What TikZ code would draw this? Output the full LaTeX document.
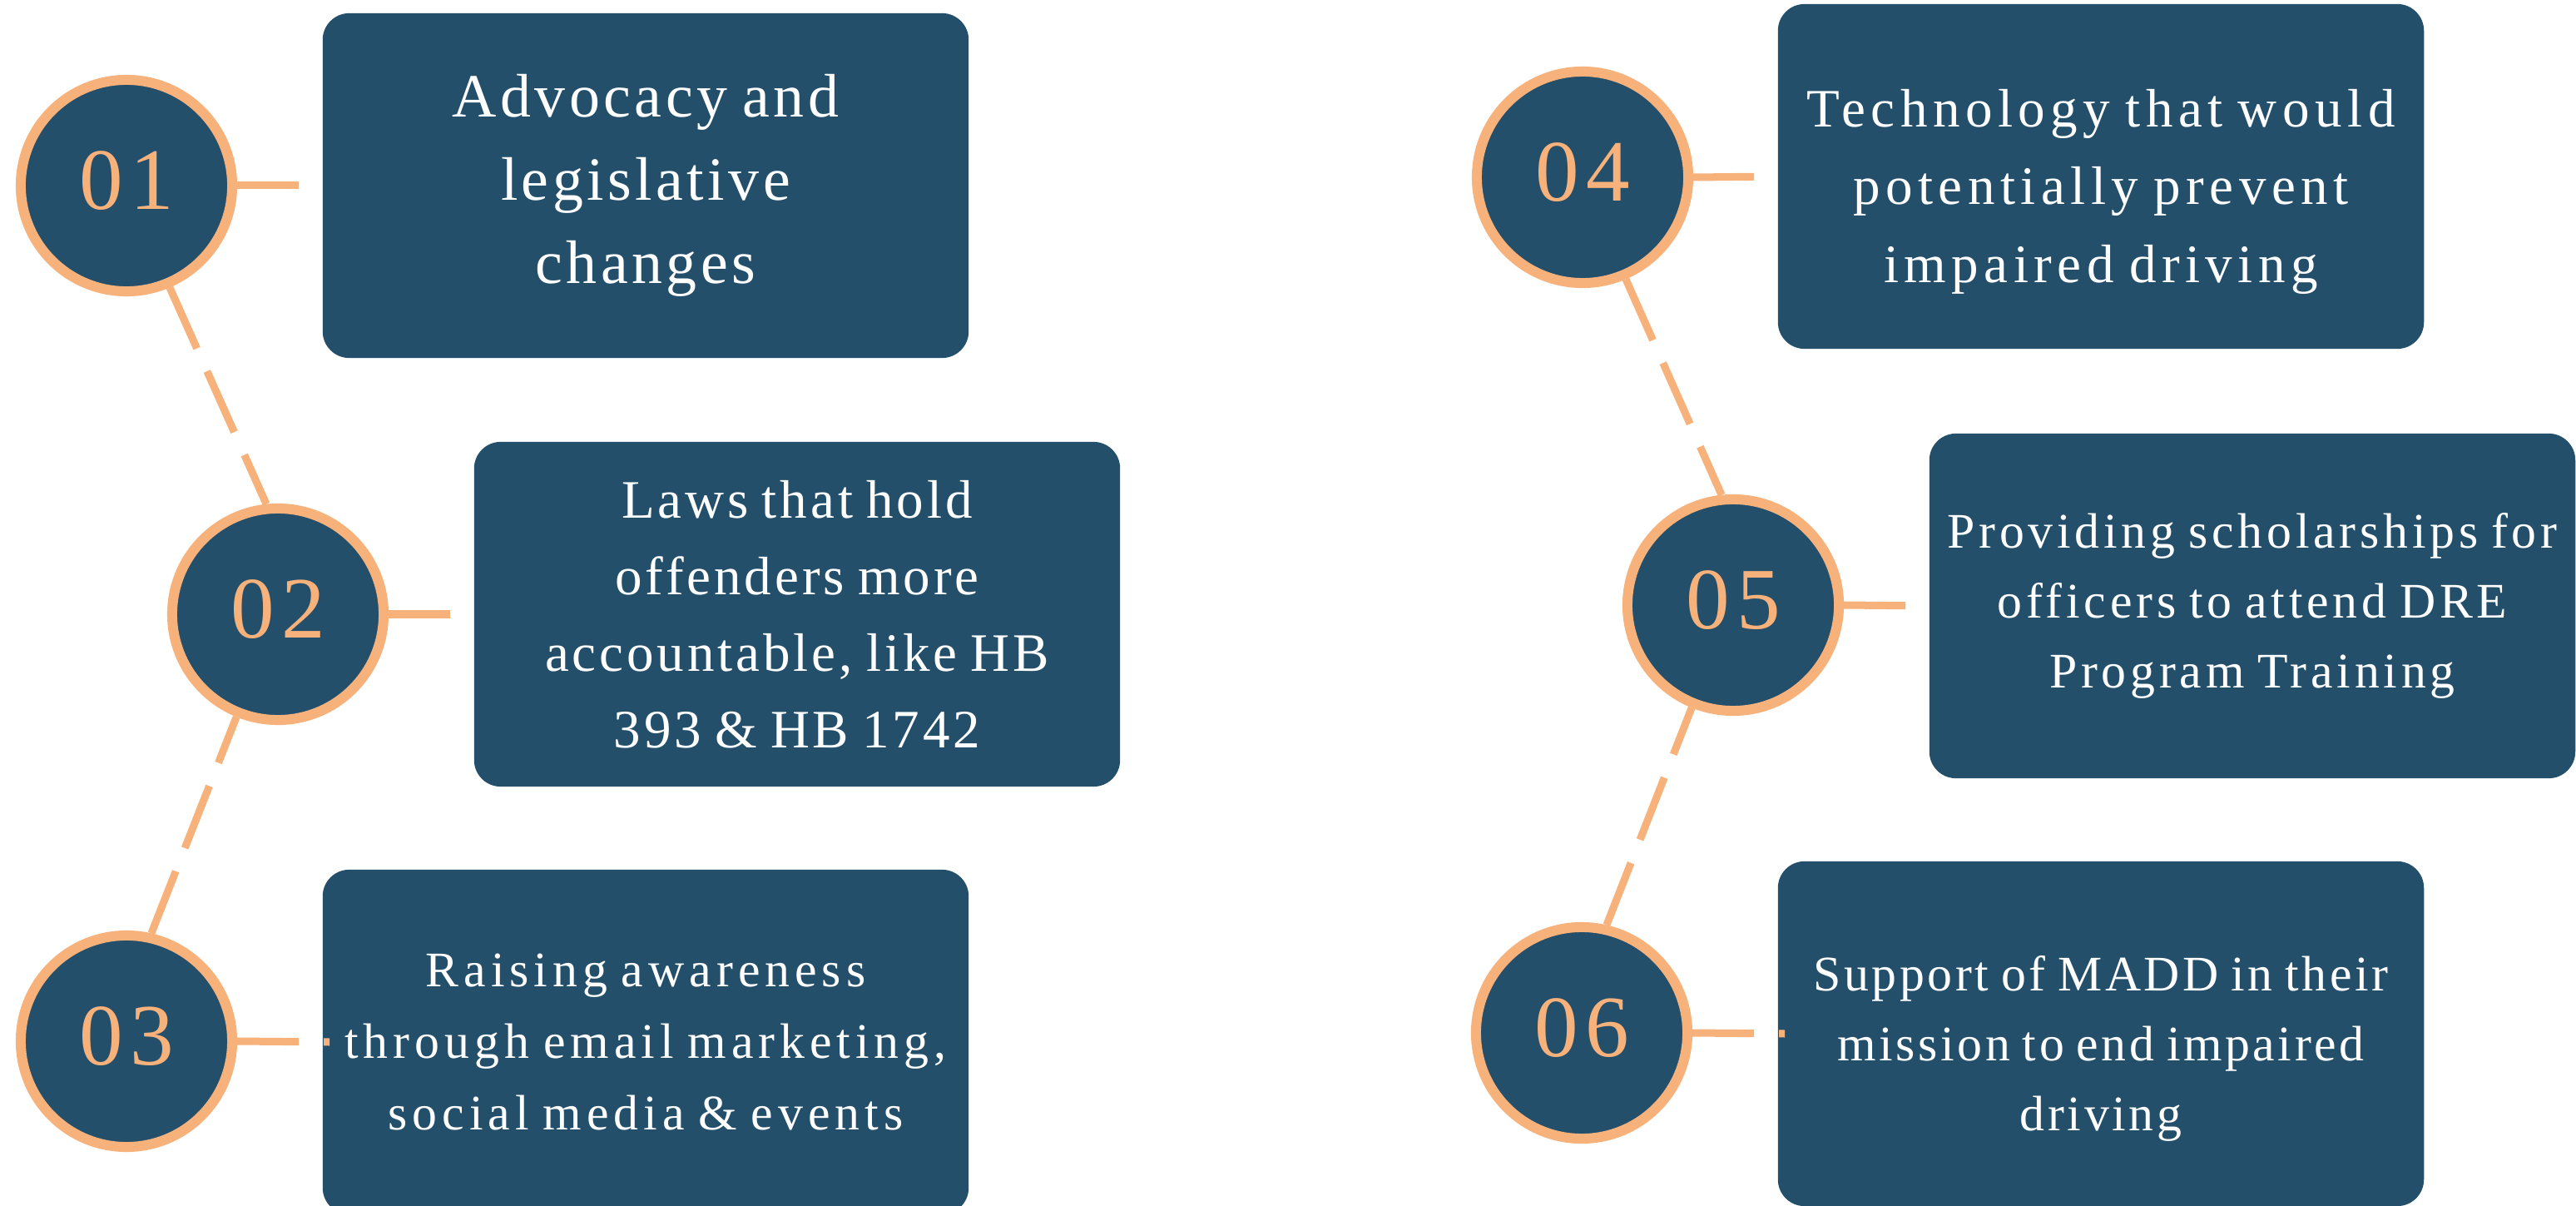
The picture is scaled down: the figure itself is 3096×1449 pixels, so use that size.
\documentclass[tikz,border=0pt]{standalone}
\usepackage{fontspec}
\setmainfont{Liberation Serif}
\newfontfamily\cardfont[LetterSpace=6,WordSpace=0.8]{Liberation Serif}
\newfontfamily\numfont[LetterSpace=8]{Liberation Serif}

\definecolor{navy}{HTML}{234F6B}
\definecolor{peach}{HTML}{F7B17B}

\newlength\cardw
\setlength\cardw{7.76cm}
\newlength\cardh
\setlength\cardh{4.14cm}

\begin{document}
\begin{tikzpicture}[x=0.01cm,y=-0.01cm,
    num/.style={circle,draw=peach,line width=1.2mm,fill=navy,minimum size=2.54cm,inner sep=0pt,
      text=peach,text depth=1.2mm,font=\numfont\fontsize{29.9}{36}\selectfont},
    card/.style={rounded corners=3.2mm,fill=navy,minimum width=\cardw,minimum height=\cardh,inner sep=0pt},
    cardtext/.style={text=white,align=center,inner sep=0pt},
    link/.style={peach,line width=0.9mm,shorten >=2.8mm},
    ticklink/.style={peach,line width=0.9mm,dash pattern=on 7.4mm off 3mm on 0.7mm off 5mm},
    chain/.style={peach,line width=0.9mm,dash pattern=on 8mm off 3mm}]
  \useasboundingbox (0,0) rectangle (3096,1449);

  \foreach \n/\x/\y in {01/152/223,02/334/738,03/152/1251,04/1902/213,05/2083/727,06/1901/1241} {
    \node[num] (c\n) at (\x,\y) {\n};
  }

  \foreach \n/\x/\y in {1/776/223,2/958/738,3/776/1252,4/2525/212,5/2707/728,6/2525/1242} {
    \node[card] (b\n) at (\x,\y) {};
  }

  \node[cardtext,font=\cardfont\fontsize{21}{28.5}\selectfont] (t1) at (b1)
    {Advocacy and\\legislative\\changes};
  \node[cardtext,font=\cardfont\fontsize{18.5}{26.2}\selectfont] (t2) at (b2)
    {Laws that hold\\offenders more\\accountable, like HB\\393 \& HB 1742};
  \node[cardtext,font=\cardfont\addfontfeature{LetterSpace=10}\fontsize{17}{24.4}\selectfont] (t3) at (b3)
    {Raising awareness\\through email marketing,\\social media \& events};
  \node[cardtext,font=\cardfont\addfontfeature{LetterSpace=10}\fontsize{18.5}{26.6}\selectfont] (t4)
    at ([yshift=-1.8mm]b4) {Technology that would\\potentially prevent\\impaired driving};
  \node[cardtext,font=\cardfont\addfontfeature{LetterSpace=8}\fontsize{17}{23.9}\selectfont] (t5) at (b5)
    {Providing scholarships for\\officers to attend DRE\\Program Training};
  \node[cardtext,font=\cardfont\fontsize{17}{23.9}\selectfont] (t6)
    at ([yshift=-1.8mm]b6) {Support of MADD in their\\mission to end impaired\\driving};

  \draw[link] (c01.east) -- (b1.west);
  \draw[link] (c02.east) -- (b2.west);
  \draw[ticklink] (c03.east) -- ([xshift=0.9mm]b3.west);
  \draw[link] (c04.east) -- (b4.west);
  \draw[link] (c05.east) -- (b5.west);
  \draw[ticklink] (c06.east) -- ([xshift=0.9mm]b6.west);

  \draw[chain] (c01.-67) -- (c02.96);
  \draw[chain] (c03.77) -- (c02.-112);
  \draw[chain] (c04.-67) -- (c05.96);
  \draw[chain] (c06.77) -- (c05.-112);
\end{tikzpicture}
\end{document}
